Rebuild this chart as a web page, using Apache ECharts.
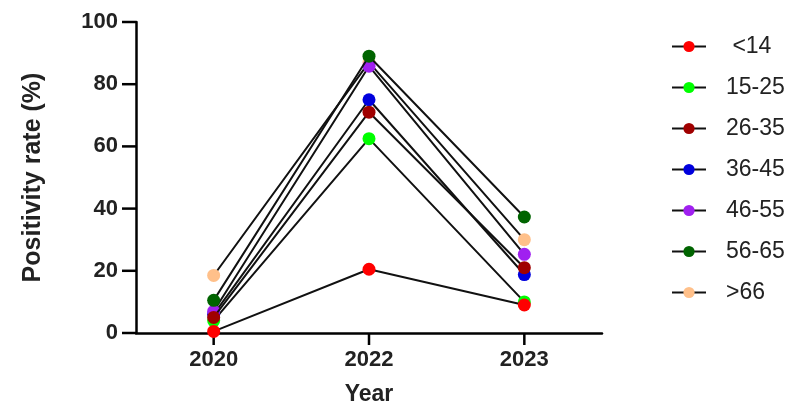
<!DOCTYPE html>
<html><head><meta charset="utf-8">
<script src="https://cdn.jsdelivr.net/npm/echarts@6/dist/echarts.min.js"></script>
<style>html,body{margin:0;padding:0;background:#fff}#c{width:794px;height:413px}</style>
</head><body><div id="c"></div>
<script>
const years = ['2020', '2022', '2023'];
const groups = ['<14', '15-25', '26-35', '36-45', '46-55', '56-65', '>66'];
const colors = ['#ff0000', '#00ff00', '#a00000', '#0000dd', '#a020f0', '#006400', '#ffc08a'];
const v_lt14 = [0.5, 20.5, 9];
const v_15_25 = [4, 62.5, 10];
const v_26_35 = [5, 71, 21];
const v_36_45 = [6, 75, 18.8];
const v_46_55 = [7, 85.8, 25.3];
const v_56_65 = [10.5, 89, 37.3];
const v_gt66 = [18.5, 87, 30];
const values = [v_lt14, v_15_25, v_26_35, v_36_45, v_46_55, v_56_65, v_gt66];
const yTicks = [0, 20, 40, 60, 80, 100];
const zOrder = [6, 3, 5, 4, 4, 5, 2];

const font = 'Arial, "Liberation Sans", Helvetica, sans-serif';
const chart = echarts.init(document.getElementById('c'));
chart.setOption({
  animation: false,
  grid: {left: 136, right: 192, top: 22, bottom: 80},
  legend: {
    orient: 'vertical', left: 666, top: 30,
    itemWidth: 34, itemHeight: 14, itemGap: 18,
    textStyle: {fontFamily: font, fontSize: 23, lineHeight: 23, color: '#222', padding: [0, 0, 0, 15]},
    formatter: n => n === '<14' ? ' ' + n : n,
    data: groups
  },
  xAxis: {
    type: 'category', data: years, boundaryGap: true,
    name: 'Year', nameLocation: 'middle', nameGap: 50,
    nameTextStyle: {fontFamily: font, fontSize: 23, fontWeight: 'bold', color: '#222'},
    axisLine: {show: true, lineStyle: {color: '#000', width: 2.5}},
    axisTick: {show: false},
    axisLabel: {
      margin: 0, interval: 0,
      formatter: v => '{t|}\n{l|' + v + '}',
      rich: {
        t: {width: 2.5, height: 12, backgroundColor: '#000'},
        l: {fontFamily: font, fontSize: 22, fontWeight: 'bold', color: '#222', lineHeight: 23, padding: [7, 0, 0, 0]}
      }
    },
    splitLine: {show: false}
  },
  yAxis: {
    type: 'value', min: 0, max: 100, interval: 20,
    name: 'Positivity rate (%)', nameLocation: 'middle', nameGap: 90, nameRotate: 90,
    nameTextStyle: {fontFamily: font, fontSize: 25, fontWeight: 'bold', color: '#222'},
    axisLine: {show: true, lineStyle: {color: '#000', width: 2.5}},
    axisTick: {show: false},
    axisLabel: {
      margin: 0,
      formatter: v => yTicks.includes(v) ? '{n|' + v + '}{t|}' : '',
      rich: {
        n: {fontFamily: font, fontSize: 22, fontWeight: 'bold', color: '#222', padding: [0, 4, 0, 0]},
        t: {width: 14, height: 2.5, backgroundColor: '#000'}
      }
    },
    splitLine: {show: false}
  },
  series: groups.map((g, i) => ({
    name: g, type: 'line', data: values[i],
    symbol: 'circle', symbolSize: 13,
    itemStyle: {color: colors[i]},
    lineStyle: {color: '#111', width: 2},
    z: zOrder[i]
  }))
});
</script></body></html>
